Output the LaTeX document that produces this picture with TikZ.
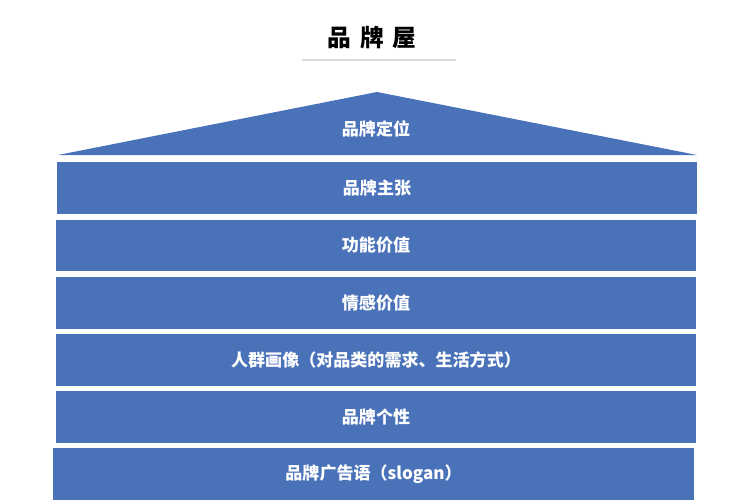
\documentclass[tikz,border=0pt]{standalone}
\usepackage{fontspec}
\newfontfamily\cjk{Noto Sans CJK SC}
\definecolor{houseblue}{RGB}{74,114,185}

\begin{document}
\begin{tikzpicture}[x=0.02cm,y=-0.02cm,
    floor/.style={fill=houseblue, minimum width=12.82cm, minimum height=1.03cm, inner sep=0pt,
        text=white, font=\cjk\bfseries\fontsize{9.7}{12}\selectfont},
    label/.style={text=white, font=\cjk\bfseries\fontsize{9.7}{12}\selectfont}]
        \useasboundingbox (0,0) rectangle (756,500);
        % title and rule under it
        \node[font=\cjk\bfseries\fontsize{13.5}{16}\selectfont] (title) at (372,38) {品\hspace{5pt}牌\hspace{5pt}屋};
        \coordinate (rulel) at (302,60);
        \coordinate (ruler) at (456,60);
        \draw[black!15, line width=0.9pt] (rulel) -- (ruler);
        % roof
        \fill[houseblue] (58,155) -- (377,92) -- (697,155) -- cycle;
        \node[label] (roof) at (376,129) {品牌定位};
        % floors
        \node[floor] (claim) at (377,188) {品牌主张};
        \node[floor] (func) at (376,245.5) {功能价值};
        \node[floor] (emo) at (376,303) {情感价值};
        \node[floor] (persona) at (376,360) {人群画像（对品类的需求、生活方式）};
        \node[floor] (person) at (376,417) {品牌个性};
        \node[floor] (slogan) at (373.5,474) {品牌广告语（slogan）};
    \end{tikzpicture}
\end{document}
